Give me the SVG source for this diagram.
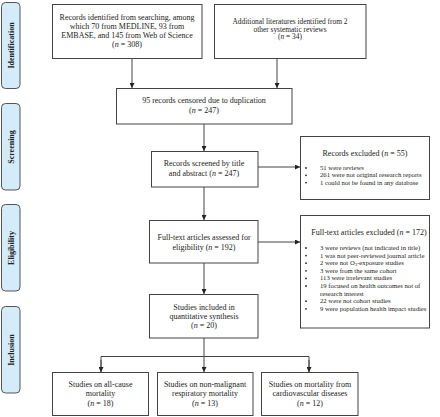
<svg xmlns="http://www.w3.org/2000/svg" width="440" height="417" viewBox="0 0 440 417">
<defs>
<marker id="ah" viewBox="0 0 6 6" refX="6" refY="3" markerWidth="5" markerHeight="5" orient="auto" markerUnits="userSpaceOnUse">
<path d="M0,0 L6,3 L0,6 z" fill="#222"/>
</marker>
<style>
.box{fill:#fff;stroke:#444;stroke-width:1}
.side{fill:#d4ebfa;stroke:#555;stroke-width:1}
.t{font-family:"Liberation Serif","Times New Roman",serif;font-size:8px;fill:#222;text-anchor:middle}
.ts{font-family:"Liberation Serif","Times New Roman",serif;font-size:7.4px;fill:#222;text-anchor:middle}
.sl{font-family:"Liberation Serif","Times New Roman",serif;font-size:8px;font-weight:bold;fill:#222;text-anchor:middle}
.b{font-family:"Liberation Serif","Times New Roman",serif;font-size:6.7px;fill:#222}
.i{font-style:italic}
.c{fill:none;stroke:#444;stroke-width:1}
.dot{fill:#222}
</style>
</defs>
<rect width="440" height="417" fill="#fff"/>

<g id="side-identification">
<rect class="side" x="1.5" y="2.5" width="18.5" height="86" rx="4"/>
<text class="sl" transform="translate(13.5,45.5) rotate(-90)">Identification</text>
</g>
<g id="side-screening">
<rect class="side" x="1.5" y="103.5" width="18.5" height="86.5" rx="4"/>
<text class="sl" transform="translate(13.5,147) rotate(-90)">Screening</text>
</g>
<g id="side-eligibility">
<rect class="side" x="1.5" y="204.5" width="18.5" height="86.5" rx="4"/>
<text class="sl" transform="translate(13.5,248) rotate(-90)">Eligibility</text>
</g>
<g id="side-inclusion">
<rect class="side" x="1.5" y="306.5" width="18.5" height="86.5" rx="4"/>
<text class="sl" transform="translate(13.5,350) rotate(-90)">Inclusion</text>
</g>

<g id="connectors">
<line class="c" x1="132" y1="58" x2="132" y2="88" marker-end="url(#ah)"/>
<line class="c" x1="277" y1="58" x2="277" y2="88" marker-end="url(#ah)"/>
<line class="c" x1="204" y1="124" x2="204" y2="151" marker-end="url(#ah)"/>
<line class="c" x1="258" y1="167" x2="300" y2="167" marker-end="url(#ah)"/>
<line class="c" x1="204" y1="187" x2="204" y2="220" marker-end="url(#ah)"/>
<line class="c" x1="258" y1="242" x2="300" y2="242" marker-end="url(#ah)"/>
<line class="c" x1="204" y1="263" x2="204" y2="294" marker-end="url(#ah)"/>
<line class="c" x1="204" y1="338" x2="204" y2="372" marker-end="url(#ah)"/>
<polyline class="c" points="101,372 101,356.5 309,356.5 309,372"/>
<line class="c" x1="101" y1="360" x2="101" y2="372" marker-end="url(#ah)"/>
<line class="c" x1="309" y1="360" x2="309" y2="372" marker-end="url(#ah)"/>
</g>

<g id="records-identified">
<rect class="box" x="52.5" y="4.5" width="149.5" height="54"/>
<text class="t" x="127" y="20">Records identified from searching, among</text>
<text class="t" x="127" y="29">which 70 from MEDLINE, 93 from</text>
<text class="t" x="127" y="38">EMBASE, and 145 from Web of Science</text>
<text class="t" x="127" y="47">(<tspan class="i">n</tspan> = 308)</text>
</g>

<g id="additional">
<rect class="box" x="214.5" y="4.5" width="151.5" height="54"/>
<text class="ts" x="290" y="24">Additional literatures identified from 2</text>
<text class="ts" x="290" y="31.7">other systematic reviews</text>
<text class="ts" x="290" y="39.4">(<tspan class="i">n</tspan> = 34)</text>
</g>

<g id="censored">
<rect class="box" x="116.5" y="88.5" width="175.5" height="35.5"/>
<text class="t" x="204" y="103">95 records censored due to duplication</text>
<text class="t" x="204" y="113">(<tspan class="i">n</tspan> = 247)</text>
</g>

<g id="screened">
<rect class="box" x="151.5" y="151.5" width="106.5" height="35.5"/>
<text class="t" x="204" y="166">Records screened by title</text>
<text class="t" x="204" y="175.5">and abstract (<tspan class="i">n</tspan> = 247)</text>
</g>

<g id="records-excluded">
<rect class="box" x="300.5" y="136.5" width="129" height="63"/>
<text class="t" x="365" y="155.5">Records excluded (<tspan class="i">n</tspan> = 55)</text>
<circle class="dot" cx="306" cy="168" r="0.9"/>
<circle class="dot" cx="306" cy="175.3" r="0.9"/>
<circle class="dot" cx="306" cy="182.6" r="0.9"/>
<g class="b">
<text x="320" y="170">51 were reviews</text>
<text x="320" y="177.3">261 were not original research reports</text>
<text x="320" y="184.6">1 could not be found in any database</text>
</g>
</g>

<g id="fulltext">
<rect class="box" x="149.5" y="220.5" width="108.5" height="42.5"/>
<text class="t" x="204" y="239.5">Full-text articles assessed for</text>
<text class="t" x="204" y="249.5">eligibility (<tspan class="i">n</tspan> = 192)</text>
</g>

<g id="fulltext-excluded">
<rect class="box" x="300.5" y="215.5" width="129" height="112.5"/>
<text class="t" x="369" y="234.5">Full-text articles excluded (<tspan class="i">n</tspan> = 172)</text>
<circle class="dot" cx="306" cy="248" r="0.9"/>
<circle class="dot" cx="306" cy="255.6" r="0.9"/>
<circle class="dot" cx="306" cy="263.2" r="0.9"/>
<circle class="dot" cx="306" cy="270.8" r="0.9"/>
<circle class="dot" cx="306" cy="278.4" r="0.9"/>
<circle class="dot" cx="306" cy="286" r="0.9"/>
<circle class="dot" cx="306" cy="301.2" r="0.9"/>
<circle class="dot" cx="306" cy="308.8" r="0.9"/>
<g class="b">
<text x="320" y="250">3 were reviews (not indicated in title)</text>
<text x="320" y="257.6">1 was not peer-reviewed journal article</text>
<text x="320" y="265.2">2 were not O<tspan font-size="4.8" dy="1.2">3</tspan><tspan dy="-1.2">-exposure studies</tspan></text>
<text x="320" y="272.8">3 were from the same cohort</text>
<text x="320" y="280.4">113 were irrelevant studies</text>
<text x="320" y="288">19 focused on health outcomes not of</text>
<text x="320" y="295.6">research interest</text>
<text x="320" y="303.2">22 were not cohort studies</text>
<text x="320" y="310.8">9 were population health impact studies</text>
</g>
</g>

<g id="included">
<rect class="box" x="149.5" y="294.5" width="108.5" height="43.5"/>
<text class="t" x="204" y="309.5">Studies included in</text>
<text class="t" x="204" y="318.5">quantitative synthesis</text>
<text class="t" x="204" y="327.5">(<tspan class="i">n</tspan> = 20)</text>
</g>

<g id="all-cause">
<rect class="box" x="52.5" y="372.5" width="96" height="43"/>
<text class="t" x="100.5" y="387">Studies on all-cause</text>
<text class="t" x="100.5" y="396">mortality</text>
<text class="t" x="100.5" y="405.5">(<tspan class="i">n</tspan> = 18)</text>
</g>

<g id="respiratory">
<rect class="box" x="157.5" y="372.5" width="95.5" height="43"/>
<text class="t" x="205" y="387">Studies on non-malignant</text>
<text class="t" x="205" y="396">respiratory mortality</text>
<text class="t" x="205" y="405.5">(<tspan class="i">n</tspan> = 13)</text>
</g>

<g id="cardiovascular">
<rect class="box" x="261.5" y="372.5" width="96.5" height="43"/>
<text class="t" x="310" y="387">Studies on mortality from</text>
<text class="t" x="310" y="396">cardiovascular diseases</text>
<text class="t" x="310" y="405.5">(<tspan class="i">n</tspan> = 12)</text>
</g>
</svg>
